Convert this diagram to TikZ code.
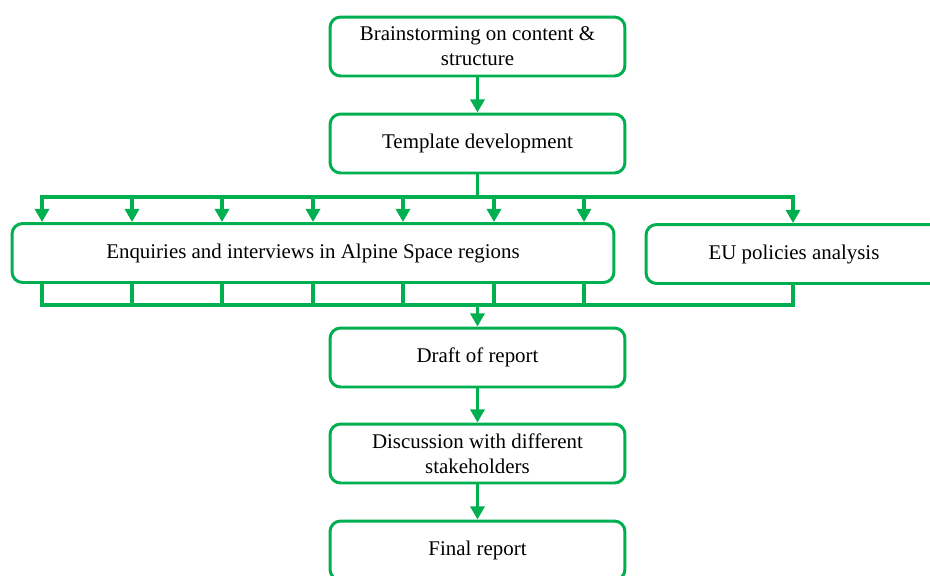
\documentclass[tikz,border=0pt]{standalone}
\usepackage{fontspec}
\setmainfont{Liberation Serif}
\usetikzlibrary{arrows.meta}
\definecolor{boxgreen}{RGB}{0,176,80}
\begin{document}
\begin{tikzpicture}[x=0.02cm,y=-0.02cm]

\tikzset{box/.style = {shape=rectangle,draw=boxgreen,line width=1.7pt,rounded corners=6pt,minimum width=5.9cm,minimum height=1.18cm,align=center,font=\fontsize{11.9}{14.2}\selectfont}}
\tikzset{edge/.style = {draw=boxgreen,line width=2pt,-{Triangle[width=8pt,length=7.5pt]}}}
\tikzset{bus/.style = {draw=boxgreen,line width=2pt,line cap=rect}}
\useasboundingbox (0,0) rectangle (930,575);
%boxes
\node[box] (brain) at (477.5,46.5) {Brainstorming on content \&\\structure};
\node[box] (templ) at (477.5,143.5) {Template development};
\node[box, minimum width=12.04cm] (enq) at (313,253) {Enquiries and interviews in Alpine Space regions};
\node[box, minimum width=5.92cm] (eu) at (794,254) {EU policies analysis};
\node[box] (draft) at (477.5,357.5) {Draft of report};
\node[box] (disc) at (477.5,453.5) {Discussion with different\\stakeholders};
\node[box] (final) at (477.5,550.5) {Final report};
%bus coordinates
\coordinate (top) at (477.5,197);
\coordinate (bot) at (477.5,305);
\foreach \x [count=\i] in {42,132,222,313,403,494,584} {
  \coordinate (t\i) at (\x,197);
  \coordinate (b\i) at (\x,305);
}
\coordinate (teu) at (793,197);
\coordinate (beu) at (793,305);
%edges
\draw[edge] (brain) -- (templ);
\draw[bus] (templ.south) -- (top);
\draw[bus] (t1) -- (teu);
\foreach \i in {1,...,7} {
  \draw[edge] (t\i) -- (t\i |- enq.north);
  \draw[bus] (t\i |- enq.south) -- (b\i);
}
\draw[edge] (teu) -- (teu |- eu.north);
\draw[bus] (teu |- eu.south) -- (beu);
\draw[bus] (b1) -- (beu);
\draw[edge] (bot) -- (draft.north);
\draw[edge] (draft) -- (disc);
\draw[edge] (disc) -- (final);

\end{tikzpicture}
\end{document}
